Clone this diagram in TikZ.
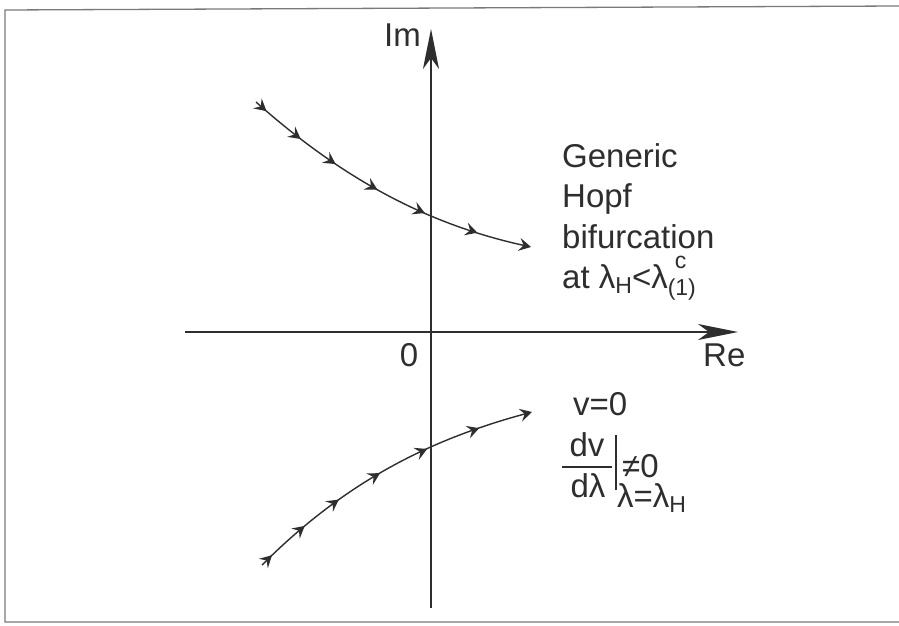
\documentclass[tikz,border=0pt]{standalone}
\usepackage{fontspec}
\setmainfont{Liberation Sans}
\usetikzlibrary{arrows.meta,decorations.markings}
\definecolor{ink}{HTML}{2e2e2e}
\definecolor{framec}{HTML}{7a7a7a}
\newcommand{\smallsub}[2]{\raisebox{#1}{\fontsize{23}{23}\selectfont #2}}
\tikzset{smallhead/.tip={Stealth[length=12pt,width=13pt,inset=4.5pt]}}
\begin{document}
\begin{tikzpicture}[x=1pt,y=-1pt,
  lbl/.style={inner sep=0pt,text=ink,font=\fontsize{33}{40}\selectfont},
  axisarrow/.style={draw=ink,line width=1.5pt,-{Stealth[length=40pt,width=16pt,inset=11pt]}},
  traj/.style={draw=ink,line width=1.4pt,-smallhead,
    postaction={decorate},
    decoration={markings,
      mark=at position 14pt with {\arrow{smallhead}},
      mark=at position 58pt with {\arrow{smallhead}},
      mark=at position 101pt with {\arrow{smallhead}},
      mark=at position 150pt with {\arrow{smallhead}},
      mark=at position 203pt with {\arrow{smallhead}},
      mark=at position 259pt with {\arrow{smallhead}}}},
  framel/.style={draw=framec,line width=1.3pt},
  thin/.style={draw=ink,line width=1.1pt}]
\useasboundingbox (0,0) rectangle (899,626);
\fill[white] (0,0) rectangle (899,626);
% frame
\coordinate (ftr) at (899,6);
\coordinate (ftl) at (5,10);
\coordinate (fbl) at (5,622);
\coordinate (fbr) at (899,622);
\draw[framel] (ftr) -- (ftl) -- (fbl) -- (fbr);
% axes
\coordinate (imS) at (431,608);
\coordinate (imE) at (431,29);
\coordinate (reS) at (185,332);
\coordinate (reE) at (738,332);
\draw[axisarrow] (imS) -- (imE);
\draw[axisarrow] (reS) -- (reE);
% trajectories
\coordinate (uS) at (256,102);
\coordinate (uE) at (531,247);
\coordinate (lS) at (262,565);
\coordinate (lE) at (532,412);
\draw[traj] (uS) .. controls (346,182) and (431,225) .. (uE);
\draw[traj] (lS) .. controls (347,480) and (432,439) .. (lE);
% axis labels
\node[lbl,anchor=base east] (im) at (421,47) {Im};
\node[lbl,anchor=base] (zero) at (409,366) {0};
\node[lbl,anchor=base west] (re) at (703,366) {Re};
% upper text
\node[lbl,anchor=base west] (g1) at (562,167) {Generic};
\node[lbl,anchor=base west] (g2) at (562,207) {Hopf};
\node[lbl,anchor=base west] (g3) at (562,248) {bifurcation};
\node[lbl,anchor=base west] (g4) at (562,288) {at λ\smallsub{-5pt}{H}<λ\rlap{\smallsub{20pt}{\hspace{7pt}c}}\smallsub{-7pt}{(1)}};
% lower text
\node[lbl,anchor=base west] (v0) at (573,415) {v=0};
\node[lbl,anchor=base] (dv) at (587,456) {dv};
\node[lbl,anchor=base] (dl) at (588,497) {dλ};
\coordinate (barL) at (562,467);
\coordinate (barR) at (612,467);
\draw[thin] (barL) -- (barR);
\coordinate (vbT) at (616,435);
\coordinate (vbB) at (616,490);
\draw[thin] (vbT) -- (vbB);
\node[lbl,anchor=base west] (ne) at (622,477) {≠0};
\node[lbl,anchor=base west] (ev) at (617,507) {λ=λ\smallsub{-5pt}{H}};
\end{tikzpicture}
\end{document}
